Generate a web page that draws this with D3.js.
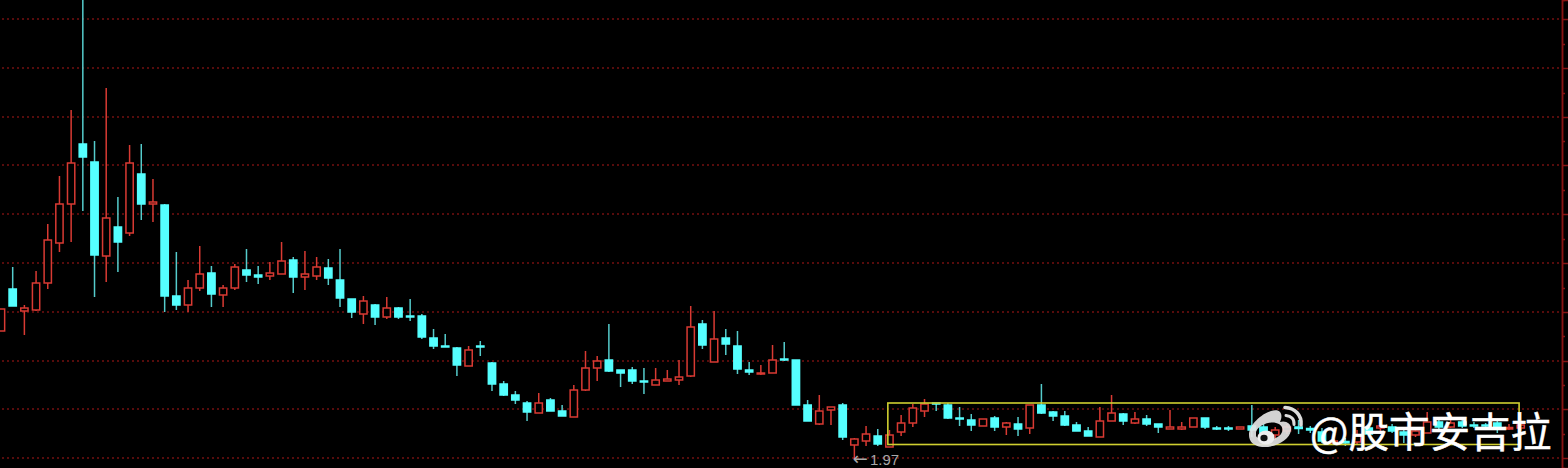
<!DOCTYPE html>
<html>
<head>
<meta charset="utf-8">
<style>
html,body{margin:0;padding:0;background:#000;overflow:hidden}
svg{display:block}
</style>
<script src="https://cdn.jsdelivr.net/npm/d3@7"></script>
</head>
<body>
<div id="chart"></div>
<script>
const highs = [3.47,3.89,3.51,3.85,4.32,4.80,5.46,6.56,5.15,5.68,4.59,5.11,5.12,4.77,4.52,4.04,3.76,4.10,3.90,3.71,3.92,4.07,3.90,3.94,4.14,3.99,4.05,3.99,3.97,4.07,
3.57,3.60,3.52,3.59,3.49,3.57,3.42,3.27,3.22,3.09,3.10,3.15,2.94,2.75,2.65,2.55,2.63,2.58,2.51,2.71,3.05,3.00,3.32,2.86,2.89,2.88,2.88,2.86,2.96,3.50,
3.36,3.45,3.27,3.25,2.94,2.91,3.11,3.14,2.96,2.56,2.61,2.49,2.53,2.18,2.30,2.27,2.26,2.41,2.52,2.57,2.53,2.53,2.49,2.42,2.37,2.40,2.34,2.39,2.51,2.72,
2.45,2.45,2.34,2.29,2.49,2.61,2.43,2.44,2.41,2.32,2.46,2.34,2.38,2.38,2.30,2.30,2.29,2.51,2.32,2.29,2.32,2.36,2.30,2.28,2.17,2.18,2.26,2.31,2.36,2.32,
2.28,2.28,2.44,2.36,2.41,2.36,2.34,2.33,2.36,2.32,2.33];
const opens = [3.25,3.67,3.45,3.46,3.73,4.13,4.52,5.12,4.94,4.00,4.29,4.23,4.82,4.52,4.51,3.60,3.51,3.68,3.83,3.61,3.68,3.86,3.81,3.80,3.82,3.96,3.79,3.80,3.88,3.76,
3.57,3.42,3.51,3.39,3.48,3.40,3.40,3.18,3.10,3.08,2.90,3.10,2.93,2.72,2.61,2.53,2.43,2.56,2.45,2.39,2.66,2.88,2.96,2.86,2.86,2.75,2.71,2.75,2.76,2.80,
3.32,2.94,3.18,3.10,2.86,2.82,2.83,2.97,2.96,2.51,2.32,2.46,2.51,2.11,2.15,2.20,2.09,2.24,2.33,2.45,2.53,2.51,2.38,2.36,2.30,2.38,2.29,2.32,2.28,2.51,
2.44,2.40,2.31,2.25,2.19,2.35,2.42,2.33,2.37,2.32,2.27,2.27,2.29,2.38,2.28,2.28,2.27,2.30,2.29,2.21,2.25,2.29,2.275,2.24,2.13,2.145,2.14,2.28,2.28,2.29,
2.24,2.21,2.23,2.34,2.29,2.34,2.31,2.31,2.33,2.27,2.28];
const closes = [3.47,3.50,3.48,3.73,4.16,4.52,4.93,4.99,4.01,4.38,4.14,4.93,4.52,4.54,3.60,3.51,3.68,3.82,3.62,3.68,3.89,3.81,3.79,3.83,3.95,3.79,3.82,3.89,3.78,3.58,
3.44,3.55,3.39,3.48,3.39,3.39,3.19,3.10,3.09,2.91,3.06,3.09,2.72,2.61,2.56,2.44,2.53,2.45,2.40,2.66,2.88,2.95,2.85,2.83,2.75,2.74,2.76,2.77,2.79,3.29,
3.11,3.17,3.12,2.87,2.84,2.83,2.96,2.96,2.51,2.35,2.45,2.49,2.19,2.17,2.22,2.12,2.21,2.33,2.48,2.52,2.52,2.38,2.37,2.31,2.37,2.29,2.33,2.27,2.51,2.43,
2.40,2.31,2.25,2.20,2.35,2.43,2.35,2.37,2.32,2.29,2.29,2.29,2.38,2.29,2.27,2.27,2.29,2.26,2.23,2.26,2.29,2.275,2.26,2.15,2.15,2.13,2.21,2.22,2.30,2.25,
2.21,2.25,2.34,2.29,2.33,2.30,2.30,2.30,2.28,2.285,2.31];
const lows = [3.25,3.50,3.21,3.45,3.67,4.04,4.14,4.45,3.59,3.74,3.84,4.20,4.36,4.34,3.44,3.46,3.44,3.65,3.49,3.49,3.66,3.74,3.72,3.76,3.82,3.63,3.66,3.76,3.71,3.49,
3.38,3.32,3.31,3.37,3.37,3.35,3.17,3.07,3.09,2.80,2.90,3.00,2.65,2.60,2.52,2.35,2.43,2.45,2.40,2.39,2.65,2.75,2.84,2.69,2.72,2.62,2.71,2.75,2.71,2.79,
3.07,2.94,3.01,2.82,2.81,2.81,2.83,2.95,2.51,2.35,2.31,2.31,2.16,1.97,2.10,2.10,2.09,2.20,2.29,2.39,2.45,2.37,2.30,2.25,2.30,2.25,2.21,2.20,2.22,2.42,
2.35,2.30,2.25,2.20,2.19,2.35,2.31,2.32,2.30,2.23,2.27,2.26,2.29,2.27,2.26,2.25,2.27,2.19,2.20,2.16,2.22,2.22,2.23,2.13,2.13,2.10,2.12,2.20,2.22,2.23,
2.13,2.19,2.23,2.26,2.28,2.28,2.28,2.29,2.23,2.26,2.26];
const gridPrices = [6.37,5.88,5.39,4.91,4.42,3.93,3.44,2.95,2.47,1.98];
const minorPrices = [6.12,5.63,5.15,4.66,4.17,3.68,3.20,2.71,2.22];
const lowArrow = "←";
const lowValue = "1.97";
const lowIndex = 73;
const watermark = "@股市安吉拉";
const boxFrom = {index:76, high:2.53, low:2.115, toIndex:130};

const W = 1568, H = 468;
const svg = d3.select("#chart").append("svg").attr("width",W).attr("height",H).style("background","#000");
const x = d3.scaleLinear().domain([0,130]).range([1,1520.7]);
const y = d3.scaleLinear().domain([1.88,6.56]).range([468,0]);

const RED = "#d93a33", CYAN = "#55ffff", CYANW = "#55cccc", GRID = "#741010", AXIS = "#861414";

svg.append("g").selectAll("line").data(gridPrices).join("line")
  .attr("x1",2).attr("x2",1559).attr("y1",d=>y(d)).attr("y2",d=>y(d))
  .attr("stroke",GRID).attr("stroke-width",1.3).attr("stroke-dasharray","2 3");

const axMajor = d3.axisRight(y).tickValues(gridPrices).tickSize(6).tickFormat("");
const axMinor = d3.axisRight(y).tickValues(minorPrices).tickSize(3).tickFormat("");
[axMinor,axMajor].forEach(a=>{
  const g = svg.append("g").attr("transform","translate(1562,0)").call(a);
  g.selectAll("path,line").attr("stroke",AXIS).attr("stroke-width",1.5);
});

const idx = d3.range(highs.length);
const bw = 7.3;
const c = svg.append("g").selectAll("g").data(idx).join("g");
const isUp = i => closes[i] > opens[i];
c.append("line")
  .attr("x1",i=>x(i)).attr("x2",i=>x(i))
  .attr("y1",i=>y(highs[i])).attr("y2",i=>y(lows[i]))
  .attr("stroke",i=>isUp(i)?RED:CYANW).attr("stroke-width",1.5);
c.append("rect")
  .attr("x",i=>x(i)-bw/2)
  .attr("width",bw)
  .attr("y",i=>y(Math.max(opens[i],closes[i])))
  .attr("height",i=>Math.max(0.8,Math.abs(y(opens[i])-y(closes[i]))))
  .attr("fill",i=>isUp(i)?"#000":CYAN)
  .attr("stroke",i=>isUp(i)?RED:CYAN)
  .attr("stroke-width",1.5);

svg.append("rect")
  .attr("x",x(boxFrom.index)-1.6).attr("width",x(boxFrom.toIndex)-x(boxFrom.index))
  .attr("y",y(boxFrom.high)).attr("height",y(boxFrom.low)-y(boxFrom.high))
  .attr("fill","none").attr("stroke","#cfcf30").attr("stroke-width",1.6);

const lowText = svg.append("text")
  .attr("x",x(lowIndex)-1.5).attr("y",y(lows[lowIndex])+5.5)
  .attr("fill","#a8a8a8");
lowText.append("tspan").attr("font-family","DejaVu Sans").attr("font-size",18).text(lowArrow);
lowText.append("tspan").attr("dx",2).attr("font-family","Liberation Sans").attr("font-size",15).text(lowValue);

const logo = svg.append("g");
logo.append("path")
  .attr("fill-rule","evenodd").attr("fill","#e4e4e4").attr("fill-opacity",0.92)
  .attr("d","M1249 435C1249 425 1261 414 1271 411C1282 408 1283 416 1280 422C1286 420 1292 424 1291 430C1290 440 1275 448 1262 447C1253 446 1249 441 1249 435Z"
    +"M1256 432C1258 426 1268 421 1276 423C1284 425 1284 432 1279 436C1273 441 1259 441 1256 436Z");
logo.append("ellipse").attr("cx",1266).attr("cy",437.5).attr("rx",8.5).attr("ry",7).attr("fill","#eeeeee");
logo.append("ellipse").attr("cx",1264).attr("cy",438).attr("rx",3.6).attr("ry",3.2).attr("fill","#111");
logo.append("path").attr("fill","none").attr("stroke","#dcdcdc").attr("stroke-width",3.6).attr("stroke-linecap","round")
  .attr("d","M1285 407.5C1295 408 1302 415 1301 425");
logo.append("path").attr("fill","none").attr("stroke","#dcdcdc").attr("stroke-width",3).attr("stroke-linecap","round")
  .attr("d","M1286 415.5C1291 416 1294.5 419 1294 424.5");

svg.append("text")
  .attr("x",1310).attr("y",446.5)
  .attr("font-family","Noto Sans CJK SC").attr("font-size",40.6)
  .attr("fill","#fff").attr("stroke","#fff").attr("stroke-width",0.5).text(watermark);
</script>
</body>
</html>
